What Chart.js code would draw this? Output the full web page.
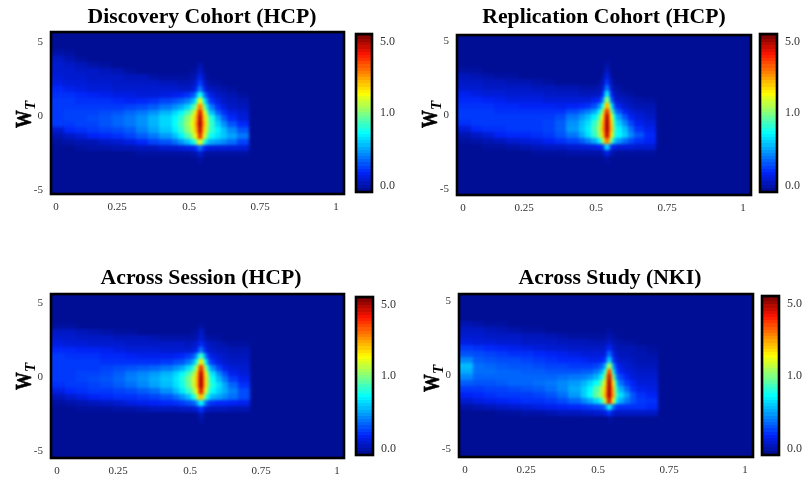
<!DOCTYPE html>
<html>
<head>
<meta charset="utf-8">
<title>Wedge density panels</title>
<script src="https://cdn.jsdelivr.net/npm/chart.js@4"></script>
<style>
    html, body { margin: 0; background: #fff; width: 802px; height: 478px; overflow: hidden; }
    canvas { position: absolute; filter: blur(0.3px); }
</style>
</head>
<body>
<script>
// Values below are colour bar percent (0 bottom, 100 top)
const panelTitles = ['Discovery Cohort (HCP)', 'Replication Cohort (HCP)', 'Across Session (HCP)', 'Across Study (NKI)'];
const xTickLabels = ['0', '0.25', '0.5', '0.75', '1'];
// the source figure has these labels unevenly spaced
const xTickPositions = [0, 0.218, 0.475, 0.729, 1];
const yTickValues = [-5, 0, 5];
const colorTickLabels = ['0.0', '1.0', '5.0'];
const colorTickPositions = [4, 50, 95];
const colorLevels = [0, 2, 4, 6, 8, 10, 12, 14, 16, 18, 20, 22, 24, 26, 28, 30, 32, 34, 36, 38, 40, 42, 44, 46, 48, 50,
    52, 54, 56, 58, 60, 62, 64, 66, 68, 70, 72, 74, 76, 78, 80, 82, 84, 86, 88, 90, 92, 94, 96, 98, 100];
const backgroundLevel = 2;

const columnEdges = [-0.03, 0.029, 0.071, 0.114, 0.157, 0.2, 0.243, 0.286, 0.329, 0.371, 0.414, 0.436, 0.457, 0.479,
    0.493, 0.504, 0.511, 0.518, 0.525, 0.536, 0.55, 0.571, 0.593, 0.614, 0.65, 0.689];
const rowEdges = [4.4, 4, 3.6, 3.2, 2.8, 2.4, 2, 1.6, 1.2, 0.8, 0.4, 0, -0.4, -0.8, -1.2, -1.6, -2, -2.4, -2.8, -3.2];

const discoveryGrid = [
    [4, 3, 2, 2, 2, 2, 2, 2, 2, 2, 2, 2, 2, 2, 2, 2, 2, 2, 2, 2, 2, 2, 2, 2, 2],
    [7, 5, 3, 2, 2, 2, 2, 2, 2, 2, 2, 2, 2, 2, 2, 2, 2, 2, 2, 2, 2, 2, 2, 2, 2],
    [8, 7, 6, 4, 3, 2, 2, 2, 2, 2, 2, 2, 2, 2, 2, 4, 5, 4, 2, 2, 2, 2, 2, 2, 2],
    [8, 8, 7, 7, 6, 5, 3, 2, 2, 2, 2, 2, 2, 3, 3, 6, 8, 6, 3, 2, 2, 2, 2, 2, 2],
    [9, 8, 8, 7, 7, 7, 6, 6, 4, 3, 3, 3, 3, 4, 5, 9, 12, 9, 5, 3, 2, 2, 2, 2, 2],
    [10, 9, 9, 8, 8, 7, 7, 7, 7, 6, 6, 5, 5, 6, 8, 13, 17, 13, 7, 5, 3, 3, 2, 2, 2],
    [13, 11, 10, 9, 9, 8, 8, 8, 8, 8, 8, 7, 7, 8, 11, 19, 24, 19, 11, 7, 6, 5, 4, 3, 2],
    [14, 14, 13, 12, 11, 10, 10, 9, 9, 10, 11, 12, 14, 17, 22, 36, 42, 36, 22, 15, 10, 7, 6, 5, 3],
    [15, 15, 14, 14, 14, 13, 12, 13, 14, 16, 18, 20, 23, 28, 36, 56, 62, 56, 36, 24, 14, 10, 7, 6, 5],
    [15, 15, 15, 15, 15, 15, 16, 17, 19, 22, 25, 28, 33, 42, 52, 70, 80, 70, 50, 34, 22, 14, 10, 7, 6],
    [15, 16, 16, 16, 17, 18, 20, 22, 25, 29, 33, 37, 44, 52, 64, 80, 94, 80, 62, 44, 30, 20, 14, 10, 8],
    [15, 16, 16, 17, 18, 20, 22, 25, 29, 33, 37, 42, 50, 58, 68, 84, 98, 84, 66, 54, 40, 28, 19, 13, 9],
    [15, 15, 16, 16, 18, 20, 22, 25, 29, 33, 38, 44, 52, 60, 70, 86, 100, 86, 68, 55, 42, 32, 25, 18, 13],
    [8, 13, 14, 15, 16, 17, 19, 23, 27, 31, 36, 42, 50, 58, 68, 82, 98, 82, 66, 53, 42, 36, 30, 24, 18],
    [5, 7, 9, 12, 13, 14, 16, 19, 22, 26, 30, 36, 44, 52, 62, 76, 92, 76, 60, 46, 38, 34, 31, 27, 22],
    [3, 4, 5, 5, 7, 8, 10, 13, 16, 18, 21, 25, 30, 36, 46, 56, 62, 56, 42, 32, 28, 26, 24, 21, 16],
    [2, 2, 3, 4, 4, 5, 5, 6, 6, 8, 8, 9, 10, 11, 13, 18, 22, 18, 12, 10, 9, 9, 9, 9, 9],
    [2, 2, 2, 2, 2, 2, 2, 3, 3, 3, 3, 3, 3, 4, 4, 7, 9, 7, 4, 3, 3, 3, 3, 3, 3],
    [2, 2, 2, 2, 2, 2, 2, 2, 2, 2, 2, 2, 2, 2, 2, 3, 4, 3, 2, 2, 2, 2, 2, 2, 2]
];

const replicationGrid = [
    [2, 2, 2, 2, 2, 2, 2, 2, 2, 2, 2, 2, 2, 2, 2, 2, 2, 2, 2, 2, 2, 2, 2, 2, 2],
    [2, 2, 2, 2, 2, 2, 2, 2, 2, 2, 2, 2, 2, 2, 2, 2, 2, 2, 2, 2, 2, 2, 2, 2, 2],
    [2, 2, 2, 2, 2, 2, 2, 2, 2, 2, 2, 2, 2, 2, 2, 3, 4, 3, 2, 2, 2, 2, 2, 2, 2],
    [3, 3, 2, 2, 2, 2, 2, 2, 2, 2, 2, 2, 2, 2, 2, 5, 7, 5, 2, 2, 2, 2, 2, 2, 2],
    [6, 5, 4, 3, 3, 2, 2, 2, 2, 2, 2, 2, 2, 2, 3, 8, 10, 8, 3, 2, 2, 2, 2, 2, 2],
    [7, 7, 6, 6, 5, 5, 4, 3, 2, 2, 2, 2, 2, 3, 5, 11, 15, 11, 5, 3, 2, 2, 2, 2, 2],
    [8, 8, 7, 7, 7, 7, 6, 6, 5, 5, 4, 4, 4, 5, 7, 17, 24, 17, 7, 5, 3, 2, 2, 2, 2],
    [11, 10, 9, 9, 8, 8, 8, 7, 7, 7, 6, 6, 6, 7, 12, 30, 38, 30, 12, 6, 5, 4, 3, 2, 2],
    [13, 13, 12, 11, 10, 10, 10, 9, 9, 9, 9, 9, 11, 13, 22, 46, 54, 46, 20, 10, 7, 6, 5, 4, 3],
    [14, 14, 14, 13, 13, 12, 12, 12, 11, 12, 13, 14, 17, 24, 38, 64, 74, 64, 36, 18, 11, 8, 6, 5, 5],
    [15, 15, 15, 14, 14, 14, 14, 14, 14, 17, 20, 23, 27, 36, 54, 76, 90, 76, 50, 28, 18, 12, 9, 7, 6],
    [15, 15, 15, 15, 15, 15, 15, 15, 17, 22, 26, 30, 36, 46, 64, 84, 98, 84, 62, 38, 26, 18, 12, 9, 7],
    [14, 15, 15, 15, 15, 15, 15, 16, 19, 25, 30, 34, 42, 52, 68, 86, 100, 86, 66, 44, 32, 24, 16, 11, 9],
    [9, 13, 14, 14, 15, 15, 15, 16, 19, 26, 31, 36, 44, 54, 70, 86, 100, 86, 68, 46, 36, 30, 21, 14, 11],
    [5, 7, 9, 12, 13, 13, 14, 15, 18, 22, 28, 34, 42, 52, 66, 84, 97, 84, 64, 44, 37, 32, 24, 18, 13],
    [3, 4, 5, 6, 8, 9, 10, 12, 14, 16, 19, 23, 28, 36, 52, 70, 80, 70, 48, 32, 26, 21, 17, 14, 12],
    [2, 2, 3, 3, 4, 5, 6, 7, 7, 8, 9, 9, 10, 11, 14, 28, 36, 28, 13, 10, 9, 9, 9, 8, 8],
    [2, 2, 2, 2, 2, 2, 3, 3, 3, 4, 4, 4, 4, 4, 5, 9, 12, 9, 5, 4, 3, 3, 3, 3, 3],
    [2, 2, 2, 2, 2, 2, 2, 2, 2, 2, 2, 2, 2, 2, 2, 3, 4, 3, 2, 2, 2, 2, 2, 2, 2]
];

const sessionGrid = [
    [2, 2, 2, 2, 2, 2, 2, 2, 2, 2, 2, 2, 2, 2, 2, 2, 2, 2, 2, 2, 2, 2, 2, 2, 2],
    [2, 2, 2, 2, 2, 2, 2, 2, 2, 2, 2, 2, 2, 2, 2, 2, 2, 2, 2, 2, 2, 2, 2, 2, 2],
    [3, 3, 2, 2, 2, 2, 2, 2, 2, 2, 2, 2, 2, 2, 2, 3, 4, 3, 2, 2, 2, 2, 2, 2, 2],
    [7, 7, 6, 5, 4, 3, 3, 2, 2, 2, 2, 2, 2, 3, 3, 6, 8, 6, 3, 2, 2, 2, 2, 2, 2],
    [8, 8, 7, 7, 7, 6, 6, 6, 5, 4, 4, 4, 4, 4, 5, 7, 9, 7, 5, 4, 3, 3, 2, 2, 2],
    [10, 9, 9, 8, 8, 8, 7, 7, 7, 7, 7, 7, 6, 7, 8, 11, 14, 11, 8, 7, 6, 5, 4, 3, 3],
    [13, 13, 12, 12, 11, 10, 9, 9, 9, 8, 8, 8, 8, 9, 11, 18, 23, 18, 11, 8, 7, 6, 6, 5, 5],
    [15, 14, 14, 14, 13, 13, 12, 11, 11, 11, 12, 13, 15, 18, 26, 40, 44, 40, 24, 14, 10, 8, 7, 6, 6],
    [15, 15, 15, 15, 14, 14, 14, 14, 14, 15, 17, 18, 22, 28, 40, 58, 66, 58, 38, 22, 14, 10, 8, 7, 7],
    [15, 15, 15, 15, 16, 17, 18, 19, 20, 22, 25, 28, 34, 42, 56, 76, 90, 76, 54, 36, 24, 16, 11, 9, 8],
    [15, 15, 16, 16, 17, 19, 22, 24, 26, 29, 33, 37, 44, 52, 66, 84, 98, 84, 64, 46, 34, 24, 17, 11, 9],
    [15, 15, 16, 17, 18, 20, 23, 25, 28, 31, 35, 40, 48, 57, 68, 86, 100, 86, 66, 50, 38, 29, 22, 15, 11],
    [14, 15, 15, 16, 17, 19, 21, 24, 27, 30, 34, 39, 47, 56, 68, 86, 100, 86, 66, 50, 40, 34, 27, 20, 14],
    [10, 13, 14, 15, 15, 16, 17, 19, 21, 25, 30, 35, 42, 50, 62, 80, 94, 80, 60, 46, 37, 32, 28, 23, 17],
    [6, 8, 10, 12, 13, 14, 14, 15, 16, 18, 21, 25, 30, 38, 50, 66, 72, 66, 46, 36, 29, 27, 24, 21, 17],
    [3, 4, 5, 6, 7, 8, 10, 11, 12, 13, 14, 15, 17, 19, 24, 34, 38, 34, 22, 16, 14, 13, 13, 12, 11],
    [2, 2, 3, 3, 3, 4, 4, 5, 6, 6, 6, 7, 7, 8, 9, 13, 16, 13, 8, 7, 6, 6, 6, 5, 5],
    [2, 2, 2, 2, 2, 2, 2, 2, 2, 2, 2, 2, 2, 2, 2, 5, 7, 5, 2, 2, 2, 2, 2, 2, 2],
    [2, 2, 2, 2, 2, 2, 2, 2, 2, 2, 2, 2, 2, 2, 2, 3, 3, 3, 2, 2, 2, 2, 2, 2, 2]
];

const studyGrid = [
    [2, 2, 2, 2, 2, 2, 2, 2, 2, 2, 2, 2, 2, 2, 2, 2, 2, 2, 2, 2, 2, 2, 2, 2, 2],
    [2, 2, 2, 2, 2, 2, 2, 2, 2, 2, 2, 2, 2, 2, 2, 2, 2, 2, 2, 2, 2, 2, 2, 2, 2],
    [5, 4, 3, 3, 2, 2, 2, 2, 2, 2, 2, 2, 2, 2, 2, 2, 2, 2, 2, 2, 2, 2, 2, 2, 2],
    [7, 7, 6, 5, 4, 3, 3, 2, 2, 2, 2, 2, 2, 2, 2, 3, 3, 3, 2, 2, 2, 2, 2, 2, 2],
    [8, 8, 7, 7, 7, 6, 6, 5, 4, 3, 3, 3, 3, 3, 3, 4, 5, 4, 3, 3, 2, 2, 2, 2, 2],
    [10, 9, 9, 8, 8, 7, 7, 7, 6, 6, 6, 5, 5, 5, 5, 7, 7, 7, 5, 4, 4, 3, 3, 2, 2],
    [15, 14, 13, 12, 11, 10, 9, 8, 8, 7, 7, 7, 7, 7, 7, 11, 12, 11, 7, 6, 5, 5, 5, 4, 3],
    [18, 17, 16, 15, 14, 14, 13, 12, 11, 10, 9, 9, 9, 9, 9, 16, 22, 18, 10, 7, 6, 6, 5, 5, 4],
    [24, 19, 18, 17, 17, 16, 15, 14, 13, 13, 12, 11, 11, 12, 14, 24, 34, 28, 14, 9, 7, 7, 6, 5, 5],
    [30, 21, 20, 19, 18, 18, 17, 16, 16, 15, 15, 15, 16, 19, 26, 46, 56, 50, 26, 14, 10, 8, 7, 6, 6],
    [28, 21, 21, 20, 20, 19, 19, 18, 18, 18, 19, 19, 22, 27, 38, 66, 88, 72, 36, 18, 12, 9, 8, 7, 7],
    [24, 20, 20, 20, 20, 20, 20, 20, 21, 22, 23, 25, 29, 36, 50, 76, 96, 82, 50, 25, 16, 12, 9, 8, 8],
    [19, 18, 18, 19, 20, 20, 21, 22, 24, 26, 29, 33, 38, 46, 60, 80, 100, 86, 62, 34, 21, 15, 12, 9, 9],
    [15, 15, 16, 16, 17, 18, 19, 21, 24, 28, 32, 37, 45, 54, 66, 82, 100, 88, 68, 42, 28, 20, 14, 11, 10],
    [12, 13, 14, 15, 15, 15, 16, 18, 21, 26, 32, 38, 47, 54, 68, 84, 100, 88, 70, 44, 34, 26, 18, 14, 12],
    [8, 10, 11, 12, 13, 14, 14, 15, 17, 20, 24, 28, 33, 40, 56, 76, 94, 80, 60, 36, 28, 22, 18, 15, 14],
    [4, 5, 6, 7, 8, 9, 10, 11, 12, 13, 14, 15, 16, 17, 20, 30, 40, 34, 20, 15, 14, 14, 14, 14, 13],
    [2, 2, 2, 3, 3, 4, 4, 5, 6, 6, 7, 7, 8, 8, 9, 12, 15, 12, 8, 7, 7, 7, 7, 7, 7],
    [2, 2, 2, 2, 2, 2, 2, 2, 2, 2, 2, 2, 2, 2, 2, 2, 3, 4, 2, 2, 2, 2, 2, 2, 2]
];

const panelGrids = [discoveryGrid, replicationGrid, sessionGrid, studyGrid];

const panelLayouts = [
    { plot: [51, 32, 344, 194], bar: [355, 33, 372, 193], zeroX: 56, zeroY: 116, titleCenter: 202, titleTop: 4, labelShift: 12 },
    { plot: [457, 35, 751, 195], bar: [759, 33, 777, 193], zeroX: 463, zeroY: 115, titleCenter: 604, titleTop: 1.5, labelShift: 13 },
    { plot: [51, 294, 344, 458], bar: [355, 296, 373, 456], zeroX: 57, zeroY: 377, titleCenter: 201, titleTop: 3, labelShift: 13 },
    { plot: [459, 294, 753, 457], bar: [761, 295, 779, 456], zeroX: 465, zeroY: 375, titleCenter: 610, titleTop: 3, labelShift: 17 }
];
const pixelsPerX = 280;
const pixelsPerY = 14.8;
const fontFamily = '"Liberation Serif", serif';
const frameWidth = 2.6;

// Jet style colour bar, stops
const colorStops = [
    [0, 0, 10, 130], [12.5, 0, 35, 250], [37.5, 0, 255, 255], [62.5, 255, 255, 0], [87.5, 255, 20, 0], [100, 110, 0, 0]
];

function levelColor(level) {
    let i = 1;
    while (i < colorStops.length - 1 && level > colorStops[i][0]) i++;
    const a = colorStops[i - 1];
    const b = colorStops[i];
    const t = (level - a[0]) / (b[0] - a[0]);
    const mix = k => Math.round(a[k] + (b[k] - a[k]) * t);
    return `rgb(${mix(1)}, ${mix(2)}, ${mix(3)})`;
}

const swatches = {};

// Point style for one cell: a filled canvas of the cell's pixel size
function cellStyle(context) {
    const cell = context.raw;
    if (!cell) return 'rect';
    const { x, y } = context.chart.scales;
    const w = Math.ceil(Math.abs(x.getPixelForValue(cell.x1) - x.getPixelForValue(cell.x0)) + 0.5);
    const h = Math.ceil(Math.abs(y.getPixelForValue(cell.y1) - y.getPixelForValue(cell.y0)) + 0.5);
    const color = levelColor(cell.level);
    const key = `${color}|${w}|${h}`;
    if (!swatches[key]) {
        const swatch = document.createElement('canvas');
        swatch.width = w;
        swatch.height = h;
        const swatchCtx = swatch.getContext('2d');
        swatchCtx.fillStyle = color;
        swatchCtx.fillRect(0, 0, w, h);
        swatches[key] = swatch;
    }
    return swatches[key];
}

function makeCell(x0, x1, y0, y1, level) {
    return { x: (x0 + x1) / 2, y: (y0 + y1) / 2, x0, x1, y0, y1, level };
}

function gridCells(grid) {
    const cells = [];
    grid.forEach((row, r) => {
        row.forEach((level, c) => {
            cells.push(makeCell(columnEdges[c], columnEdges[c + 1], rowEdges[r], rowEdges[r + 1], level));
        });
    });
    return cells;
}

const cellDataset = cells => ({
    data: cells,
    showLine: false,
    pointStyle: cellStyle,
    pointRadius: 1,
    pointBorderWidth: 0
});

// Fills the plot background, softens the cells and draws the black frame
const framePlugin = {
    id: 'frame',
    beforeDatasetsDraw(chart) {
        const { ctx, chartArea: a } = chart;
        ctx.save();
        ctx.fillStyle = levelColor(backgroundLevel);
        ctx.fillRect(a.left, a.top, a.width, a.height);
        ctx.restore();
    },
    afterDatasetsDraw(chart, args, opts) {
        const { ctx, chartArea: a } = chart;
        if (opts.blur) {
            ctx.save();
            ctx.beginPath();
            ctx.rect(a.left, a.top, a.width, a.height);
            ctx.clip();
            ctx.filter = `blur(${opts.blur}px)`;
            ctx.drawImage(chart.canvas, 0, 0);
            ctx.restore();
        }
        ctx.save();
        ctx.strokeStyle = '#000';
        ctx.lineWidth = frameWidth;
        ctx.strokeRect(a.left, a.top, a.width, a.height);
        ctx.restore();
    }
};

// Rotated W with italic T subscript
const axisLabelPlugin = {
    id: 'axisLabel',
    afterDraw(chart, args, opts) {
        const { ctx, scales } = chart;
        ctx.save();
        ctx.translate(31, scales.y.getPixelForValue(0) + opts.shift);
        ctx.rotate(-Math.PI / 2);
        ctx.fillStyle = '#000';
        ctx.strokeStyle = '#000';
        ctx.textAlign = 'left';
        ctx.textBaseline = 'alphabetic';
        ctx.font = `italic bold 15px ${fontFamily}`;
        ctx.fillText('T', 18, 4);
        ctx.scale(0.74, 1);
        ctx.font = `bold 24px ${fontFamily}`;
        ctx.lineWidth = 0.7;
        ctx.fillText('W', 0, 0);
        ctx.strokeText('W', 0, 0);
        ctx.restore();
    }
};

function addCanvas(left, top, width, height) {
    const canvas = document.createElement('canvas');
    canvas.width = width;
    canvas.height = height;
    canvas.style.left = left + 'px';
    canvas.style.top = top + 'px';
    document.body.appendChild(canvas);
    return canvas;
}

const tickFont = { family: fontFamily, size: 11 };
const barTickFont = { family: fontFamily, size: 12 };
const tickColor = '#333';

function drawPanel(index) {
    const layout = panelLayouts[index];
    const [left, top, right, bottom] = layout.plot;
    const canvasLeft = left - 51;
    const canvasTop = top - 32;
    const canvasWidth = Math.round(2 * (layout.titleCenter - canvasLeft));
    const canvasHeight = bottom + 36 - canvasTop;

    new Chart(addCanvas(canvasLeft, canvasTop, canvasWidth, canvasHeight), {
        type: 'scatter',
        data: { datasets: [cellDataset(gridCells(panelGrids[index]))] },
        plugins: [framePlugin, axisLabelPlugin],
        options: {
            responsive: false,
            animation: false,
            events: [],
            plugins: {
                legend: { display: false },
                tooltip: { enabled: false },
                title: {
                    display: true,
                    text: panelTitles[index],
                    color: '#000',
                    font: { family: fontFamily, size: 21.7, weight: 'bold', lineHeight: 1.2 },
                    padding: { top: layout.titleTop, bottom: 6 - layout.titleTop }
                },
                frame: { blur: 1.5 },
                axisLabel: { shift: layout.labelShift }
            },
            scales: {
                x: {
                    type: 'linear',
                    min: (left - layout.zeroX) / pixelsPerX,
                    max: (right - layout.zeroX) / pixelsPerX,
                    grid: { display: false, drawTicks: false },
                    border: { display: false },
                    afterBuildTicks: scale => { scale.ticks = xTickPositions.map(value => ({ value })); },
                    afterFit: scale => { scale.height = 36; },
                    ticks: {
                        autoSkip: false,
                        maxRotation: 0,
                        padding: 7,
                        color: tickColor,
                        font: tickFont,
                        callback: (value, i) => xTickLabels[i]
                    }
                },
                y: {
                    type: 'linear',
                    min: (layout.zeroY - bottom) / pixelsPerY,
                    max: (layout.zeroY - top) / pixelsPerY,
                    grid: { display: false, drawTicks: false },
                    border: { display: false },
                    afterBuildTicks: scale => { scale.ticks = yTickValues.map(value => ({ value })); },
                    afterFit: scale => { scale.width = 51; },
                    ticks: { padding: 8, color: tickColor, font: tickFont }
                },
                // empty axis that keeps the title centred over panel and colour bar
                spacer: {
                    type: 'linear',
                    position: 'right',
                    grid: { display: false, drawTicks: false },
                    border: { display: false },
                    ticks: { display: false },
                    afterFit: scale => { scale.width = canvasWidth - (right - canvasLeft); }
                }
            }
        }
    });

    const [barLeft, barTop, barRight, barBottom] = layout.bar;
    const barCells = colorLevels.map(level => makeCell(0, 1, level - 1, level + 1, level));

    new Chart(addCanvas(barLeft - 3, barTop - 3, barRight - barLeft + 30, barBottom - barTop + 6), {
        type: 'scatter',
        data: { datasets: [cellDataset(barCells)] },
        plugins: [framePlugin],
        options: {
            responsive: false,
            animation: false,
            events: [],
            layout: { padding: { left: 3, top: 3, bottom: 3, right: 0 } },
            plugins: {
                legend: { display: false },
                tooltip: { enabled: false },
                title: { display: false },
                frame: { blur: 0 }
            },
            scales: {
                x: { type: 'linear', min: 0, max: 1, display: false },
                y: {
                    type: 'linear',
                    position: 'right',
                    min: 0,
                    max: 100,
                    grid: { display: false, drawTicks: false },
                    border: { display: false },
                    afterBuildTicks: scale => { scale.ticks = colorTickPositions.map(value => ({ value })); },
                    afterFit: scale => {
                        scale.width = 27;
                        scale.paddingTop = 0;
                        scale.paddingBottom = 0;
                    },
                    ticks: {
                        padding: 8,
                        color: tickColor,
                        font: barTickFont,
                        callback: (value, i) => colorTickLabels[i]
                    }
                }
            }
        }
    });
}

panelTitles.forEach((title, i) => drawPanel(i));
</script>
</body>
</html>
